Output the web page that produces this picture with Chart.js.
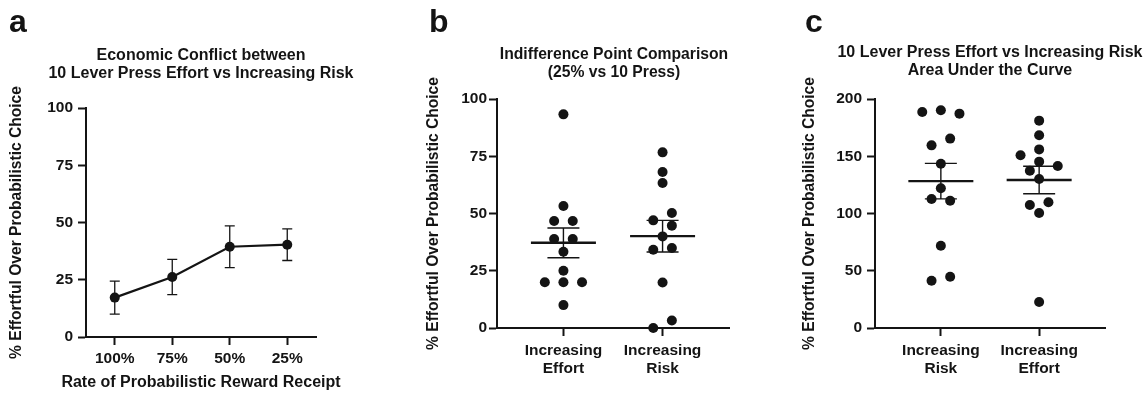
<!DOCTYPE html>
<html>
<head>
<meta charset="utf-8">
<script src="https://cdn.jsdelivr.net/npm/chart.js@4.4.1/dist/chart.umd.min.js"></script>
<style>
  body { margin: 0; background: #fff; }
  #wrap { position: relative; width: 1148px; height: 396px; overflow: hidden; font-family: 'Liberation Sans', Arial, sans-serif; font-weight: bold; color: #141414; }
  #wrap canvas { position: absolute; top: 0; }
  .tag { position: absolute; top: 5px; font-size: 32px; line-height: 1; }
  .ttl { position: absolute; width: 400px; text-align: center; font-size: 16px; line-height: 18px; white-space: nowrap; }
</style>
</head>
<body>
<div id="wrap">
  <canvas id="chartA" width="380" height="396" style="left:0"></canvas>
  <canvas id="chartB" width="380" height="396" style="left:380px"></canvas>
  <canvas id="chartC" width="388" height="396" style="left:760px"></canvas>
  <div class="tag" style="left:9px">a</div>
  <div class="tag" style="left:429px">b</div>
  <div class="tag" style="left:805px">c</div>
  <div class="ttl" style="left:1px;top:46px">Economic Conflict between<br>10 Lever Press Effort vs Increasing Risk</div>
  <div class="ttl" style="left:1px;top:373px">Rate of Probabilistic Reward Receipt</div>
  <div class="ttl" style="left:414px;top:44.5px;font-size:15.7px;line-height:18.3px">Indifference Point Comparison<br>(25% vs 10 Press)</div>
  <div class="ttl" style="left:790px;top:43.3px">10 Lever Press Effort vs Increasing Risk<br>Area Under the Curve</div>
</div>
<script>
// a - economic conflict curve (mean +/- sem)
const rateLabels = ['100%', '75%', '50%', '25%'];
const conflictMean = [17.2, 26.2, 39.4, 40.3];
const conflictSem = [7.2, 7.7, 9.1, 6.9];

// b - indifference points, one value per animal
const indiffGroups = [['Increasing', 'Effort'], ['Increasing', 'Risk']];
const indiffEffort = [93.3, 53.3, 46.7, 46.7, 38.9, 38.9, 33.3, 25.0, 20.0, 20.0, 20.0, 10.0];
const indiffRisk = [76.7, 68.1, 63.3, 50.2, 47.0, 44.7, 40.0, 34.9, 34.2, 19.9, 3.3, 0.0];
const indiffMean = [37.2, 40.1];
const indiffSem = [6.5, 6.9];

// c - area under the curve
const aucGroups = [['Increasing', 'Risk'], ['Increasing', 'Effort']];
const aucRisk = [190.1, 188.6, 187.2, 165.4, 159.5, 143.5, 122.0, 112.7, 111.2, 71.9, 44.8, 41.3];
const aucEffort = [181.1, 168.3, 156.0, 150.8, 145.3, 141.5, 137.4, 130.1, 109.8, 107.4, 100.4, 22.7];
const aucMean = [128.3, 129.3];
const aucSem = [15.5, 12.0];

const yTitle = '% Effortful Over Probabilistic Choice';
const ink = '#141414';

Chart.defaults.font.family = "'Liberation Sans', Arial, sans-serif";
Chart.defaults.font.size = 15.5;
Chart.defaults.font.weight = 'bold';
Chart.defaults.color = ink;

const border = { display: true, color: ink, width: 2 };
const grid = { drawOnChartArea: false, drawTicks: true, tickLength: 8, tickWidth: 2, tickColor: ink, offset: false };

// error bars for the line chart
const errorBars = {
    id: 'errorBars',
    beforeDatasetsDraw(chart, args, opts) {
        const { ctx, scales: { x, y } } = chart;
        ctx.save();
        ctx.strokeStyle = ink;
        ctx.lineWidth = 1.3;
        opts.mean.forEach((m, i) => {
            const px = x.getPixelForValue(i);
            const top = y.getPixelForValue(m + opts.sem[i]);
            const bot = y.getPixelForValue(m - opts.sem[i]);
            ctx.beginPath();
            ctx.moveTo(px, top); ctx.lineTo(px, bot);
            ctx.moveTo(px - 5, top); ctx.lineTo(px + 5, top);
            ctx.moveTo(px - 5, bot); ctx.lineTo(px + 5, bot);
            ctx.stroke();
        });
        ctx.restore();
    }
};

// mean line + sem whiskers for the dot plots
const meanSem = {
    id: 'meanSem',
    afterDatasetsDraw(chart, args, opts) {
        const { ctx, scales: { x, y } } = chart;
        ctx.save();
        ctx.strokeStyle = ink;
        opts.mean.forEach((m, i) => {
            const px = x.getPixelForValue(i + 1);
            const py = y.getPixelForValue(m);
            const top = y.getPixelForValue(m + opts.sem[i]);
            const bot = y.getPixelForValue(m - opts.sem[i]);
            ctx.lineWidth = 1.4;
            ctx.beginPath();
            ctx.moveTo(px, top); ctx.lineTo(px, bot);
            ctx.moveTo(px - 16, top); ctx.lineTo(px + 16, top);
            ctx.moveTo(px - 16, bot); ctx.lineTo(px + 16, bot);
            ctx.stroke();
            ctx.lineWidth = 2.4;
            ctx.beginPath();
            ctx.moveTo(px - 32.5, py); ctx.lineTo(px + 32.5, py);
            ctx.stroke();
        });
        ctx.restore();
    }
};

// spread points with close values sideways (simple beeswarm)
const SLOT = 9.3, MIN_GAP = 12, RUN_GAP = 10.5;
const swarm = function(chart, values, center) {
    const xs = chart.scales.x, ys = chart.scales.y;
    const unitPx = xs.getPixelForValue(2) - xs.getPixelForValue(1);
    const order = values.map((v, i) => i).sort((p, q) => values[q] - values[p]);
    const py = values.map(v => ys.getPixelForValue(v));
    const slots = [];
    const placed = [];
    order.forEach(i => {
        for (let n = 0; n < 20; n++) {
            const s = n === 0 ? 0 : (n % 2 ? -(n + 1) / 2 : n / 2);
            const ok = placed.every(p => Math.hypot((p.s - s) * SLOT, p.y - py[i]) >= MIN_GAP);
            if (ok) { slots[i] = s; placed.push({ s: s, y: py[i] }); break; }
        }
    });
    // recentre each run of overlapping points
    let run = [order[0]];
    const flush = function() {
        const ks = run.map(i => slots[i]);
        const mid = (Math.min(...ks) + Math.max(...ks)) / 2;
        run.forEach(i => { slots[i] -= mid; });
    };
    for (let j = 1; j < order.length; j++) {
        if (Math.abs(py[order[j - 1]] - py[order[j]]) < RUN_GAP) run.push(order[j]);
        else { flush(); run = [order[j]]; }
    }
    flush();
    return values.map((v, i) => ({ x: center + slots[i] * SLOT / unitPx, y: v }));
};

const yAxis = function(max, step, width, titlePad, tickPad) {
    return {
        min: 0, max: max,
        ticks: { stepSize: step, padding: tickPad },
        grid: grid, border: border,
        title: { display: true, text: yTitle, padding: { top: titlePad, bottom: 0 }, font: { size: 15.6 } },
        afterFit: function(s) { s.width = width; }
    };
};

// ---- a
new Chart(document.getElementById('chartA'), {
    type: 'line',
    data: {
        labels: rateLabels,
        datasets: [{
            data: conflictMean,
            borderColor: ink, borderWidth: 2.2,
            pointRadius: 5, pointBackgroundColor: ink, pointBorderWidth: 0,
            clip: false
        }]
    },
    options: {
        responsive: false, animation: false, events: [],
        layout: { padding: { top: 108, right: 64, left: 0, bottom: 0 } },
        plugins: {
            legend: { display: false }, tooltip: { enabled: false },
            errorBars: { mean: conflictMean, sem: conflictSem }
        },
        scales: {
            x: {
                offset: true,
                ticks: { padding: 4, maxRotation: 0 },
                grid: grid, border: border,
                afterFit: function(s) { s.height = 59; }
            },
            y: yAxis(100, 25, 86, 7.7, 5)
        }
    },
    plugins: [errorBars]
});

// ---- b and c share the dot-plot layout
const dotPlot = function(id, groups, sets, mean, sem, max, step, opt) {
    const chart = new Chart(document.getElementById(id), {
        type: 'scatter',
        data: {
            datasets: sets.map((vals, g) => ({
                data: vals.map(v => ({ x: g + 1, y: v })),
                pointRadius: 5, pointBackgroundColor: ink, pointBorderWidth: 0,
                clip: false
            }))
        },
        options: {
            responsive: false, animation: false, events: [],
            layout: { padding: { top: 99, right: opt.right, left: 0, bottom: 0 } },
            plugins: {
                legend: { display: false }, tooltip: { enabled: false },
                meanSem: { mean: mean, sem: sem }
            },
            scales: {
                x: {
                    type: 'linear', min: 0.33, max: 2.67,
                    afterBuildTicks: function(s) { s.ticks = [{ value: 1 }, { value: 2 }]; },
                    ticks: {
                        padding: 6, maxRotation: 0, autoSkip: false,
                        font: { lineHeight: '17.5px' },
                        callback: v => groups[v - 1]
                    },
                    grid: grid, border: border,
                    afterFit: function(s) { s.height = 68; }
                },
                y: yAxis(max, step, opt.left, opt.titlePad, opt.tickPad)
            }
        },
        plugins: [meanSem]
    });
    chart.data.datasets.forEach((ds, g) => { ds.data = swarm(chart, sets[g], g + 1); });
    chart.update('none');
};

dotPlot('chartB', indiffGroups, [indiffEffort, indiffRisk], indiffMean, indiffSem, 100, 25, {
    left: 117, right: 31, titlePad: 44, tickPad: 2
});

dotPlot('chartC', aucGroups, [aucRisk, aucEffort], aucMean, aucSem, 200, 50, {
    left: 115, right: 43, titlePad: 40.7, tickPad: 5
});
</script>
</body>
</html>
